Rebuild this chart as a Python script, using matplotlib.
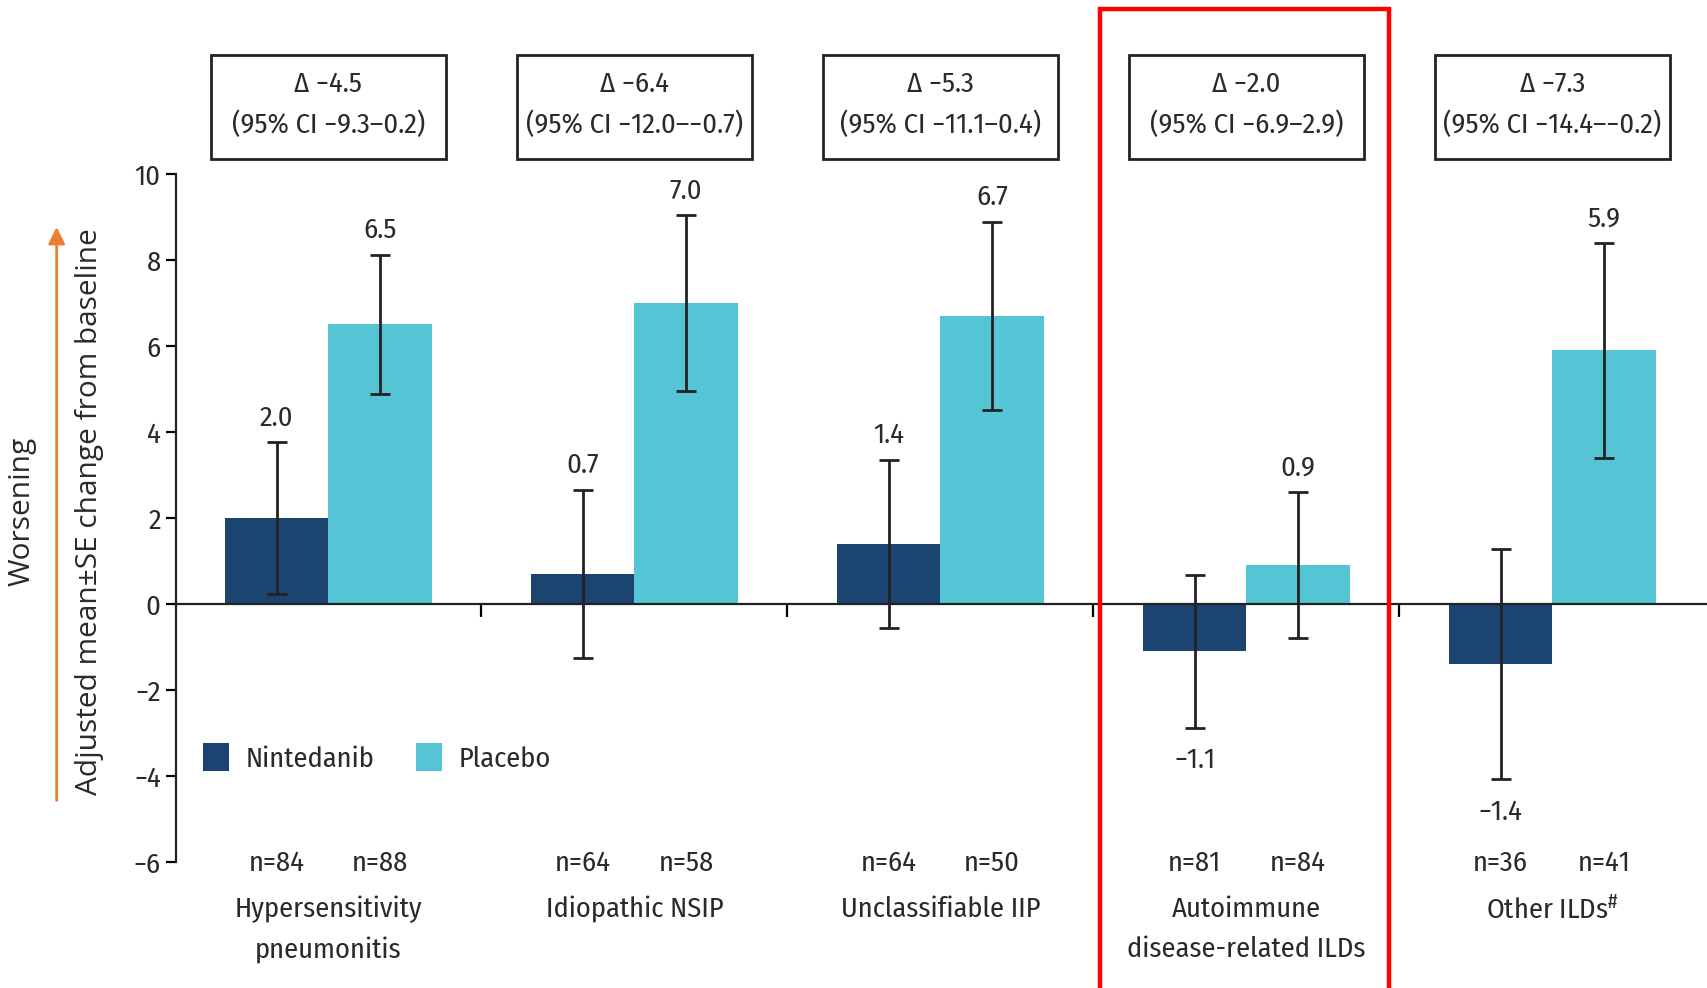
import numpy as np
import matplotlib
matplotlib.use('Agg')
import matplotlib.pyplot as plt
import matplotlib.transforms as mtransforms
from matplotlib.patches import Rectangle, FancyArrowPatch

plt.rcParams['font.family'] = ['Fira Sans Condensed', 'DejaVu Sans']
plt.rcParams['mathtext.fontset'] = 'custom'
plt.rcParams['mathtext.rm'] = 'Fira Sans Condensed'
plt.rcParams['mathtext.default'] = 'rm'

groups = ['Hypersensitivity\npneumonitis', 'Idiopathic NSIP', 'Unclassifiable IIP',
          'Autoimmune\ndisease-related ILDs', r'Other ILDs$^{\#}$']
nintedanib = [2.0, 0.7, 1.4, -1.1, -1.4]
placebo = [6.5, 7.0, 6.7, 0.9, 5.9]
nintedanib_se = [1.76, 1.96, 1.95, 1.78, 2.67]
placebo_se = [1.62, 2.04, 2.19, 1.70, 2.50]
nintedanib_n = [84, 64, 64, 81, 36]
placebo_n = [88, 58, 50, 84, 41]
delta = [-4.5, -6.4, -5.3, -2.0, -7.3]
ci_low = [-9.3, -12.0, -11.1, -6.9, -14.4]
ci_high = [0.2, -0.7, 0.4, 2.9, -0.2]

c_nin = '#1b4470'
c_pla = '#55c5d5'
txt = '#2a2a2a'
FS = 20.5


def fmt(v):
    return ('%.1f' % v).replace('-', '\u2212')


fig = plt.figure(figsize=(17.07, 9.88), dpi=100)
ax = fig.add_axes([0.1031, 0.1275, 0.8969, 0.6964])

x = np.arange(len(groups))
w = 0.338
ek = dict(ecolor='#222222', elinewidth=2, capsize=7, capthick=2)
b1 = ax.bar(x - w / 2, nintedanib, w, color=c_nin, yerr=nintedanib_se, error_kw=ek,
            label='Nintedanib', zorder=2)
b2 = ax.bar(x + w / 2, placebo, w, color=c_pla, yerr=placebo_se, error_kw=ek,
            label='Placebo', zorder=2)

# value labels beyond the error bar ends
for xs, vals, ses in [(x - w / 2, nintedanib, nintedanib_se), (x + w / 2, placebo, placebo_se)]:
    for xi, v, s in zip(xs, vals, ses):
        if v >= 0:
            ax.annotate(fmt(v), (xi, v + s), xytext=(0, 8), textcoords='offset points',
                        ha='center', va='bottom', fontsize=FS, color=txt)
        else:
            ax.annotate(fmt(v), (xi, v - s), xytext=(0, -14), textcoords='offset points',
                        ha='center', va='top', fontsize=FS, color=txt)

ax.set_xlim(-0.498, 4.505)
ax.set_ylim(-6, 10)
ax.set_yticks(np.arange(-6, 11, 2))
ax.tick_params(axis='y', labelsize=FS, labelcolor=txt, length=7, width=1.6, pad=4)
ax.set_xticks(x[:-1] + 0.5)
ax.tick_params(axis='x', labelbottom=False, length=9, width=1.6, direction='out')
for s in ['top', 'right']:
    ax.spines[s].set_visible(False)
ax.spines['bottom'].set_position(('data', 0))
ax.spines['left'].set_bounds(-6, 10)
for s in ['left', 'bottom']:
    ax.spines[s].set_linewidth(1.6)
    ax.spines[s].set_color('#222222')

trans = mtransforms.blended_transform_factory(ax.transData, ax.transAxes)

# n per arm and group names below the plot
for i in range(len(groups)):
    ax.text(x[i] - w / 2, -0.002, 'n=%d' % nintedanib_n[i], transform=trans,
            ha='center', va='center', fontsize=FS, color=txt)
    ax.text(x[i] + w / 2, -0.002, 'n=%d' % placebo_n[i], transform=trans,
            ha='center', va='center', fontsize=FS, color=txt)
    ax.text(x[i], -0.049, groups[i], transform=trans, ha='center', va='top',
            fontsize=FS, color=txt, linespacing=1.65)

# treatment difference boxes
bw = 0.769
for i in range(len(groups)):
    ax.add_patch(Rectangle((x[i] - bw / 2, 1.022), bw, 0.1505, transform=trans,
                           fill=False, edgecolor='#222222', linewidth=2, clip_on=False))
    ax.text(x[i], 1.131, '\u0394 ' + fmt(delta[i]), transform=trans, ha='center',
            va='center', fontsize=FS, color=txt)
    ax.text(x[i], 1.071, '(95% CI ' + fmt(ci_low[i]) + '\u2013' + fmt(ci_high[i]) + ')',
            transform=trans, ha='center', va='center', fontsize=FS, color=txt)

# highlighted subgroup
ax.add_patch(Rectangle((2.52, -0.3), 3.466 - 2.52, 1.5405, transform=trans, fill=False,
                       edgecolor='#ff0000', linewidth=3.2, clip_on=False, zorder=5))

ax.legend(handles=[b1, b2], ncol=2, frameon=False, loc='center left',
          bbox_to_anchor=(0.0178, 0.152), borderpad=0, borderaxespad=0,
          fontsize=FS, handlelength=0.9, handleheight=1.15, handletextpad=0.6,
          columnspacing=1.45, labelcolor=txt)

side = dict(rotation=90, ha='center', va='center', fontsize=21.5, color=txt,
            family=['Open Sans', 'DejaVu Sans'])
fig.text(0.0523, 0.482, 'Adjusted mean\u00b1SE change from baseline', **side)
fig.text(0.0128, 0.482, 'Worsening', **side)
fig.add_artist(FancyArrowPatch((0.0332, 0.187), (0.0332, 0.773), transform=fig.transFigure,
                               arrowstyle='-|>,head_length=10,head_width=5',
                               color='#ef7d31', linewidth=2))

fig.savefig('out.png', dpi=100)
